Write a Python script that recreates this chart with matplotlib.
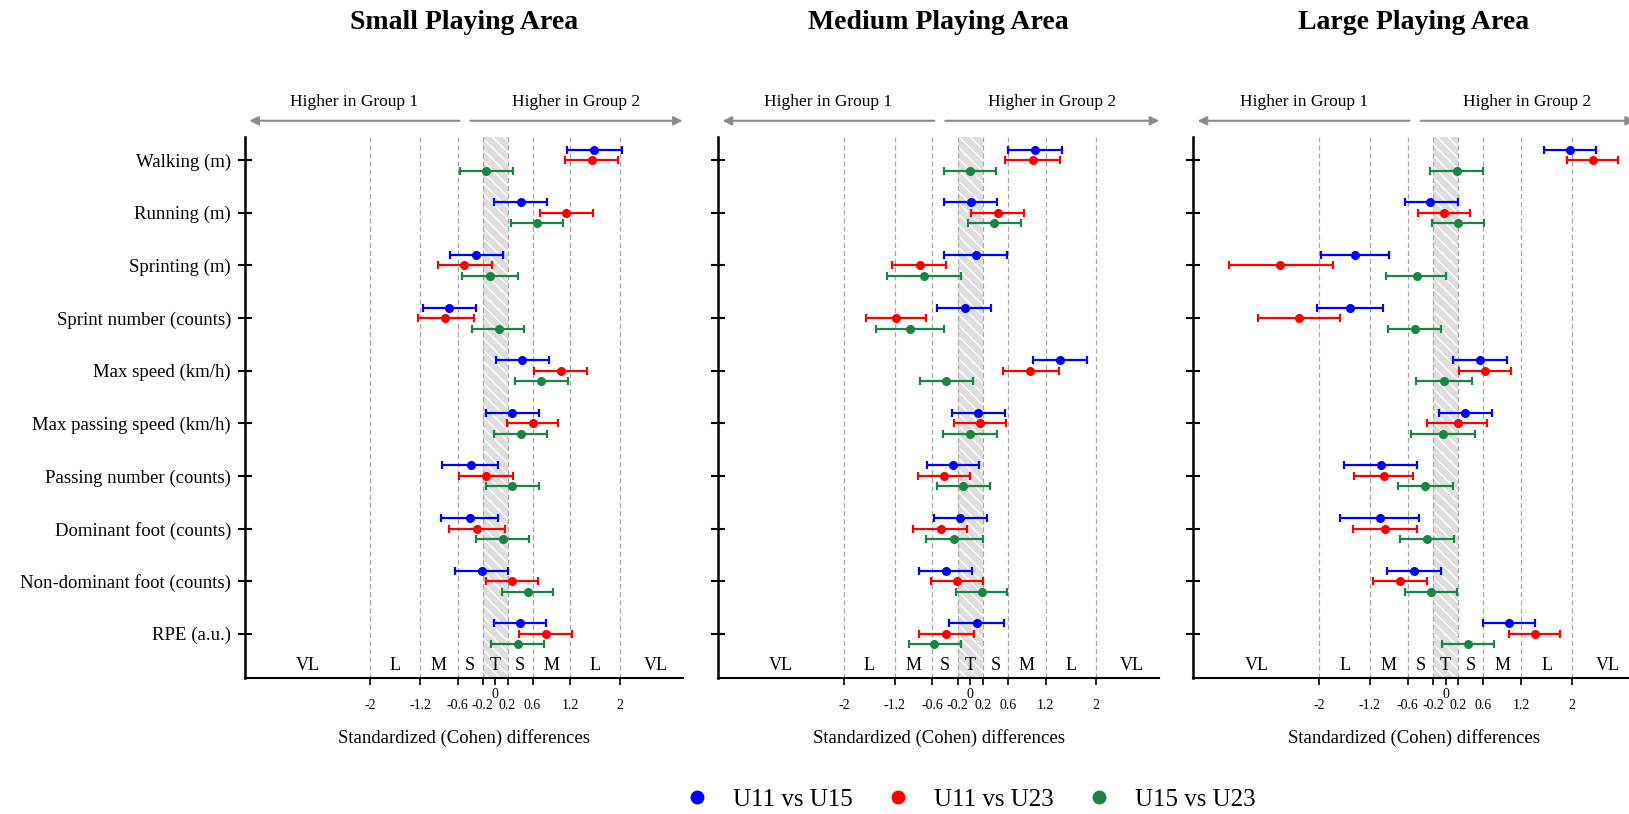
import numpy as np
import matplotlib
matplotlib.use('Agg')
import matplotlib.pyplot as plt
from matplotlib.lines import Line2D

plt.rcParams['font.family'] = ['Liberation Serif', 'DejaVu Serif']
plt.rcParams['axes.unicode_minus'] = False

variables = ['Walking (m)', 'Running (m)', 'Sprinting (m)', 'Sprint number (counts)',
             'Max speed (km/h)', 'Max passing speed (km/h)', 'Passing number (counts)',
             'Dominant foot (counts)', 'Non-dominant foot (counts)', 'RPE (a.u.)']
comparisons = ['U11 vs U15', 'U11 vs U23', 'U15 vs U23']
colors = ['#0000ff', '#ff0000', '#1a8444']
areas = ['Small Playing Area', 'Medium Playing Area', 'Large Playing Area']

# Small playing area
small_u11_u15_d  = [1.59, 0.41, -0.31, -0.73, 0.43, 0.27, -0.39, -0.40, -0.21, 0.40]
small_u11_u15_lo = [1.15, -0.02, -0.72, -1.16, 0.02, -0.14, -0.85, -0.86, -0.64, -0.02]
small_u11_u15_hi = [2.03, 0.83, 0.12, -0.31, 0.86, 0.70, 0.05, 0.05, 0.20, 0.82]
small_u11_u23_d  = [1.55, 1.14, -0.49, -0.80, 1.06, 0.60, -0.14, -0.29, 0.27, 0.81]
small_u11_u23_lo = [1.12, 0.72, -0.92, -1.24, 0.63, 0.19, -0.58, -0.73, -0.15, 0.38]
small_u11_u23_hi = [1.96, 1.56, -0.05, -0.34, 1.47, 1.01, 0.29, 0.16, 0.69, 1.23]
small_u15_u23_d  = [-0.14, 0.67, -0.08, 0.06, 0.74, 0.41, 0.27, 0.12, 0.52, 0.36]
small_u15_u23_lo = [-0.56, 0.25, -0.53, -0.37, 0.32, -0.02, -0.14, -0.30, 0.11, -0.07]
small_u15_u23_hi = [0.28, 1.08, 0.36, 0.47, 1.17, 0.83, 0.70, 0.54, 0.93, 0.78]

# Medium playing area
medium_u11_u15_d  = [1.03, 0.02, 0.09, -0.09, 1.43, 0.13, -0.28, -0.16, -0.39, 0.11]
medium_u11_u15_lo = [0.60, -0.41, -0.42, -0.52, 1.00, -0.29, -0.69, -0.57, -0.81, -0.33]
medium_u11_u15_hi = [1.46, 0.43, 0.58, 0.33, 1.86, 0.55, 0.14, 0.27, 0.03, 0.53]
medium_u11_u23_d  = [0.99, 0.44, -0.80, -1.18, 0.95, 0.15, -0.41, -0.47, -0.21, -0.38]
medium_u11_u23_lo = [0.56, 0.01, -1.24, -1.65, 0.52, -0.26, -0.83, -0.91, -0.62, -0.82]
medium_u11_u23_hi = [1.42, 0.86, -0.38, -0.70, 1.41, 0.57, 0.00, -0.05, 0.21, 0.06]
medium_u15_u23_d  = [-0.01, 0.38, -0.73, -0.95, -0.38, 0.00, -0.11, -0.25, 0.18, -0.57]
medium_u15_u23_lo = [-0.42, -0.03, -1.32, -1.49, -0.79, -0.43, -0.53, -0.70, -0.23, -0.97]
medium_u15_u23_hi = [0.41, 0.80, -0.14, -0.41, 0.04, 0.43, 0.31, 0.21, 0.59, -0.15]

# Large playing area
large_u11_u15_d  = [1.97, -0.24, -1.43, -1.51, 0.54, 0.31, -1.03, -1.04, -0.50, 1.01]
large_u11_u15_lo = [1.56, -0.65, -1.98, -2.04, 0.11, -0.10, -1.61, -1.68, -0.93, 0.59]
large_u11_u15_hi = [2.38, 0.19, -0.89, -0.99, 0.97, 0.74, -0.46, -0.42, -0.08, 1.42]
large_u11_u23_d  = [2.33, -0.03, -2.62, -2.33, 0.63, 0.19, -0.98, -0.96, -0.72, 1.41]
large_u11_u23_lo = [1.93, -0.44, -3.44, -2.97, 0.21, -0.30, -1.45, -1.47, -1.15, 1.00]
large_u11_u23_hi = [2.74, 0.39, -1.79, -1.68, 1.03, 0.66, -0.52, -0.46, -0.29, 1.82]
large_u15_u23_d  = [0.18, 0.20, -0.46, -0.49, -0.03, -0.04, -0.32, -0.30, -0.23, 0.35]
large_u15_u23_lo = [-0.24, -0.21, -0.94, -0.92, -0.47, -0.55, -0.75, -0.73, -0.64, -0.06]
large_u15_u23_hi = [0.59, 0.61, 0.00, -0.07, 0.42, 0.46, 0.12, 0.14, 0.18, 0.77]

panel_data = [
    [(small_u11_u15_d, small_u11_u15_lo, small_u11_u15_hi),
     (small_u11_u23_d, small_u11_u23_lo, small_u11_u23_hi),
     (small_u15_u23_d, small_u15_u23_lo, small_u15_u23_hi)],
    [(medium_u11_u15_d, medium_u11_u15_lo, medium_u11_u15_hi),
     (medium_u11_u23_d, medium_u11_u23_lo, medium_u11_u23_hi),
     (medium_u15_u23_d, medium_u15_u23_lo, medium_u15_u23_hi)],
    [(large_u11_u15_d, large_u11_u15_lo, large_u11_u15_hi),
     (large_u11_u23_d, large_u11_u23_lo, large_u11_u23_hi),
     (large_u15_u23_d, large_u15_u23_lo, large_u15_u23_hi)],
]

thresholds = [-2, -1.2, -0.6, -0.2, 0.2, 0.6, 1.2, 2]
zone_labels = ['VL', 'L', 'M', 'S', 'T', 'S', 'M', 'L', 'VL']
zone_pos = [-3, -1.6, -0.9, -0.4, 0, 0.4, 0.9, 1.6, 2.57]

fig = plt.figure(figsize=(16.29, 8.14), dpi=100)
lefts = [0.1504, 0.4409, 0.7325]
widths = [0.2686, 0.2707, 0.2711]
bottom, height = 0.1671, 0.6646

y = np.arange(len(variables))
offsets = [-0.2, 0.0, 0.2]

for k, ax_left in enumerate(lefts):
    ax = fig.add_axes([ax_left, bottom, widths[k], height])
    ax.set_xlim(-4, 3)
    ax.set_ylim(9.84, -0.44)

    # trivial zone
    ax.axvspan(-0.2, 0.2, facecolor='#dedede', edgecolor='white', hatch='\\\\\\', lw=0, zorder=0)
    for t in thresholds:
        ax.axvline(t, color='#a8a8a8', lw=0.9, ls=(0, (4, 2.5)), zorder=1)

    for j in range(3):
        d, lo, hi = [np.array(a) for a in panel_data[k][j]]
        ax.errorbar(d, y + offsets[j], xerr=[d - lo, hi - d], fmt='o', color=colors[j],
                    ms=5.5, elinewidth=1.6, capsize=3, capthick=1.6, zorder=3)

    for lab, xp in zip(zone_labels, zone_pos):
        ax.text(xp, 9.61, lab, ha='center', va='center', fontsize=13)

    ax.spines['top'].set_visible(False)
    ax.spines['right'].set_visible(False)
    ax.spines['left'].set_linewidth(1.8)
    ax.spines['bottom'].set_linewidth(1.5)

    ax.set_yticks(y)
    if k == 0:
        ax.set_yticklabels(variables, fontsize=13.5)
    else:
        ax.set_yticklabels([])
    ax.tick_params(axis='y', direction='inout', length=10, width=1.5, pad=5)

    ax.set_xticks(thresholds)
    ax.set_xticklabels([str(t) for t in thresholds], fontsize=10)
    ax.set_xticks([0], minor=True)
    ax.set_xticklabels(['0'], minor=True, fontsize=10)
    ax.tick_params(axis='x', which='major', direction='out', length=5, width=1.2, pad=10)
    ax.tick_params(axis='x', which='minor', direction='out', length=5, width=1.2, pad=2)

    ax.set_xlabel('Standardized (Cohen) differences', fontsize=13.5, va='center')
    ax.xaxis.set_label_coords(0.5, -0.111)

    ax.text(0.5, 1.211, areas[k], transform=ax.transAxes, ha='center', va='center',
            fontsize=20, fontweight='bold')

    arrow = dict(arrowstyle='-|>', color='#8c8c8c', lw=1.5, mutation_scale=13, shrinkA=0, shrinkB=0)
    ax.annotate('', xy=(0.01, 1.03), xytext=(0.49, 1.03), xycoords='axes fraction',
                textcoords='axes fraction', arrowprops=arrow, annotation_clip=False)
    ax.annotate('', xy=(1.0, 1.03), xytext=(0.515, 1.03), xycoords='axes fraction',
                textcoords='axes fraction', arrowprops=arrow, annotation_clip=False)
    ax.text(0.25, 1.065, 'Higher in Group 1', transform=ax.transAxes, ha='center',
            va='center', fontsize=12.5)
    ax.text(0.757, 1.065, 'Higher in Group 2', transform=ax.transAxes, ha='center',
            va='center', fontsize=12.5)

handles = [Line2D([], [], marker='o', ls='none', color=c, ms=9) for c in colors]
fig.legend(handles, comparisons, loc='center', bbox_to_anchor=(0.5955, 0.0172), ncol=3,
           frameon=False, fontsize=18, handlelength=1, handletextpad=0.94, columnspacing=1.3)

fig.savefig('out.png', dpi=100)
